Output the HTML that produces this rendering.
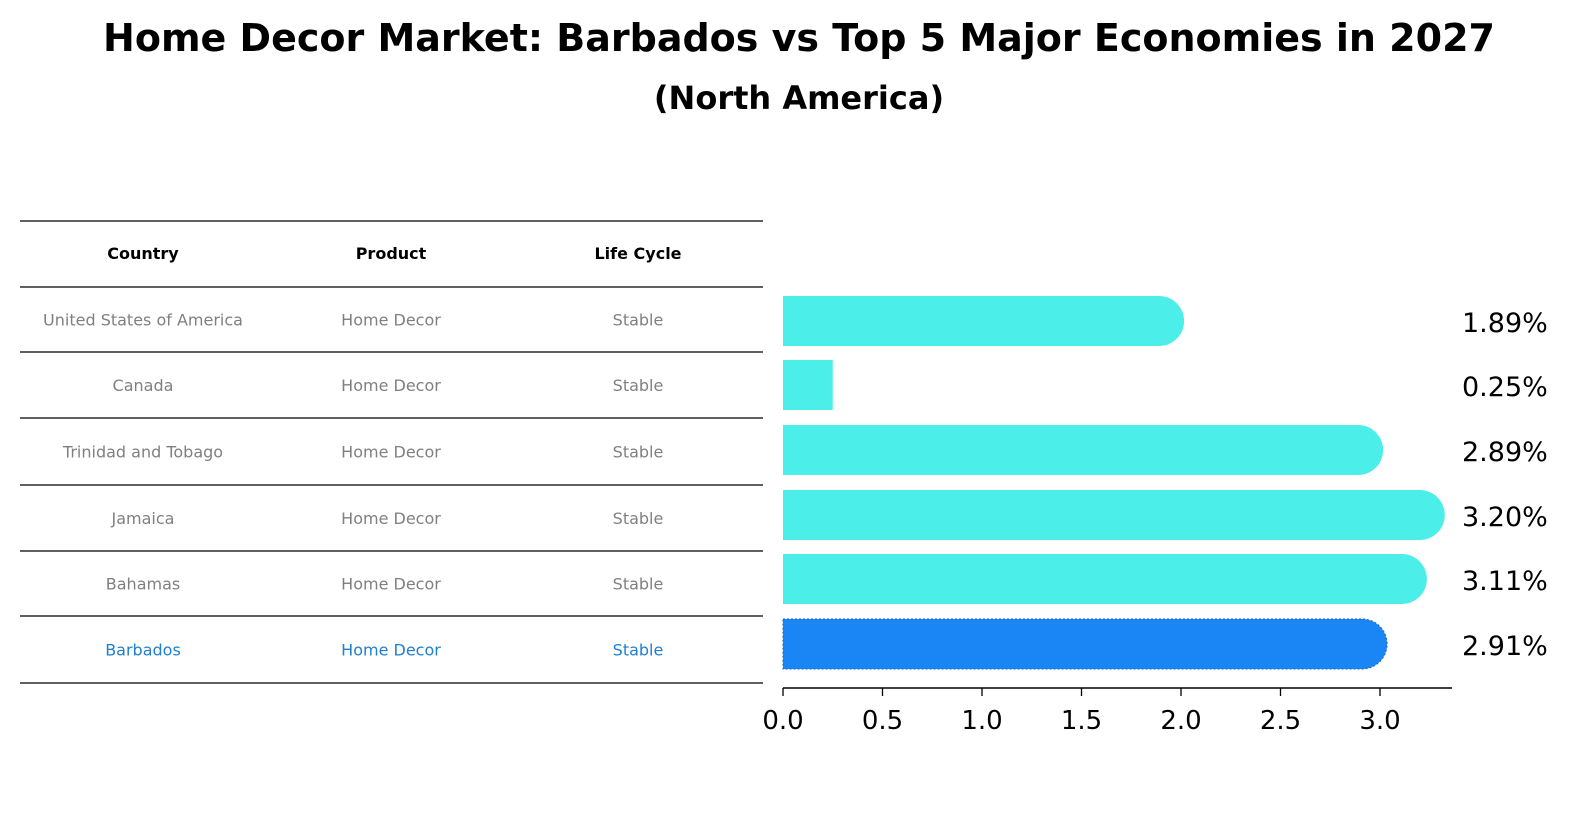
<!DOCTYPE html>
<html><head><meta charset="utf-8">
<style>
body{margin:0;width:1586px;height:823px;background:#fff;font-family:"DejaVu Sans","Liberation Sans",sans-serif;overflow:hidden}
</style></head>
<body>
<svg width="1586" height="823" xmlns="http://www.w3.org/2000/svg">
<text x="799" y="51" text-anchor="middle" font-size="38" font-weight="bold">Home Decor Market: Barbados vs Top 5 Major Economies in 2027</text>
<text x="799" y="109" text-anchor="middle" font-size="32" font-weight="bold">(North America)</text>
<g id="table"></g>
<g id="bars"></g>
</svg>
<script>
const countries=["United States of America","Canada","Trinidad and Tobago","Jamaica","Bahamas","Barbados"];
const products=["Home Decor","Home Decor","Home Decor","Home Decor","Home Decor","Home Decor"];
const lifecycles=["Stable","Stable","Stable","Stable","Stable","Stable"];
const values=[1.89,0.25,2.89,3.20,3.11,2.91];
const ticks=[0.0,0.5,1.0,1.5,2.0,2.5,3.0];
const NS="http://www.w3.org/2000/svg";
function mk(tag,attrs,parent,text){const e=document.createElementNS(NS,tag);for(const k in attrs)e.setAttribute(k,attrs[k]);if(text!==undefined)e.textContent=text;parent.appendChild(e);return e;}
const tbl=document.getElementById('table');
const lines=[221,287,352,418,485,551,616,683];
lines.forEach(y=>{const l=mk('line',{x1:20,x2:763,y1:y,y2:y,stroke:'#000','stroke-width':1.2},tbl);

});
const colX=[143,391,638];
["Country","Product","Life Cycle"].forEach((h,i)=>{const t=mk('text',{x:colX[i],y:259,'text-anchor':'middle','font-size':16,'font-weight':'bold'},tbl,h);

});
countries.forEach((c,r)=>{const y=(lines[r+1]+lines[r+2])/2+6;const col=r===5?'#1f7fd0':'#808080';
[c,products[r],lifecycles[r]].forEach((v,i)=>{const t=mk('text',{x:colX[i],y:y,'text-anchor':'middle','font-size':16,fill:col},tbl,v);

});});
const g=document.getElementById('bars');
const x0=783,scale=199;const xs=v=>x0+v*scale;
const centers=[321,385,450,515,579,644],bh=50;
values.forEach((v,i)=>{const cy=centers[i];const fill=i===5?'#1a86f5':'#4ceee9';
const w=xs(v)-x0;const r=bh/2;let d;
if(w>r*2){d=`M${x0},${cy-r} H${xs(v)} A${r},${r} 0 0 1 ${xs(v)},${cy+r} H${x0} Z`;}
else{d=`M${x0},${cy-r} H${xs(v)} V${cy+r} H${x0} Z`;}
const p=mk('path',{d:d,fill:fill},g);
if(i===5){p.setAttribute('stroke','#1565c0');p.setAttribute('stroke-dasharray','2,2');p.setAttribute('stroke-width','1');}


const t=mk('text',{x:1462,y:cy+11,'font-size':27},g,v.toFixed(2)+'%');

});
const ax=mk('line',{x1:x0,x2:1452,y1:688,y2:688,stroke:'#000','stroke-width':1.5},g);


ticks.forEach(tv=>{const tk=mk('line',{x1:xs(tv),x2:xs(tv),y1:688,y2:696,stroke:'#000','stroke-width':1.3},g);


const t=mk('text',{x:xs(tv),y:729,'text-anchor':'middle','font-size':26},g,tv.toFixed(1));

});
</script>
</body></html>
